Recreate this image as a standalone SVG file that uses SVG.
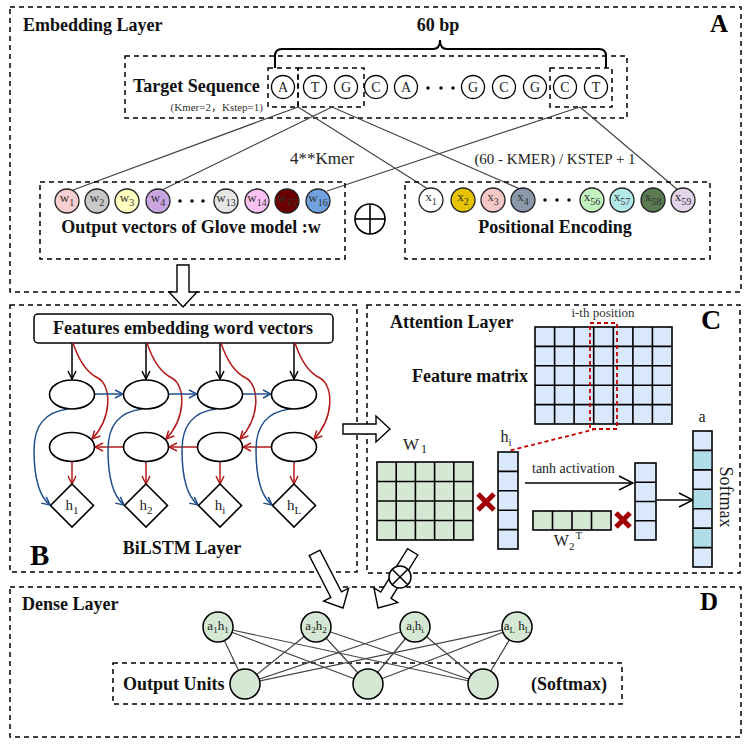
<svg xmlns="http://www.w3.org/2000/svg" width="751" height="747" viewBox="0 0 751 747">
<style>
.frame{fill:none;stroke:#000;stroke-width:1.5;stroke-dasharray:5,4}
.title{font-family:"Liberation Serif",serif;font-weight:bold;font-size:18px;fill:#111}
.big{font-family:"Liberation Serif",serif;font-weight:bold;fill:#000}
.lbl{font-family:"Liberation Serif",serif;fill:#333;text-anchor:middle}
.nuc{fill:#fff;stroke:#000;stroke-width:1.3}
.vc{stroke:#222;stroke-width:1.3}
.ln{stroke:#444;stroke-width:1.2;fill:none}
.cell{stroke:#000;stroke-width:1.6}
.blue{fill:#dae8fc}
.green{fill:#d5e8d4}
.cyan{fill:#afdde8}
.xm{stroke:#a00000;stroke-width:5;fill:none}
.hollow{fill:#fff;stroke:#000;stroke-width:1.4}
.ell{fill:#fff;stroke:#000;stroke-width:1.6}
.dn{fill:#d5e8d4;stroke:#000;stroke-width:1.5}
</style>
<defs>
<marker id="ak" viewBox="0 0 10 10" refX="9" refY="5" markerWidth="10" markerHeight="10" markerUnits="userSpaceOnUse" orient="auto"><path d="M1,1 L9,5 L1,9" fill="none" stroke="#000" stroke-width="1.5"/></marker>
<marker id="ab" viewBox="0 0 10 10" refX="9" refY="5" markerWidth="10" markerHeight="10" markerUnits="userSpaceOnUse" orient="auto"><path d="M1,1 L9,5 L1,9" fill="none" stroke="#1f4e8a" stroke-width="1.5"/></marker>
<marker id="ar" viewBox="0 0 10 10" refX="9" refY="5" markerWidth="10" markerHeight="10" markerUnits="userSpaceOnUse" orient="auto"><path d="M1,1 L9,5 L1,9" fill="none" stroke="#b31b1b" stroke-width="1.5"/></marker>
<marker id="akb" viewBox="0 0 16 16" refX="15" refY="8" markerWidth="16" markerHeight="16" markerUnits="userSpaceOnUse" orient="auto"><path d="M1,1 L15,8 L1,15" fill="none" stroke="#000" stroke-width="1.5"/></marker>
</defs>

<!-- ===== A: Embedding layer ===== -->
<g id="embedding-layer">
<rect class="frame" x="10" y="7" width="731" height="285"/>
<text class="title" x="23" y="31">Embedding Layer</text>
<text class="big" x="710" y="32" font-size="25">A</text>
<text class="title" x="438" y="31" text-anchor="middle">60 bp</text>
<path d="M275,68 V56 Q275,49 282,49 H433 Q440,49 440,40 Q440,49 447,49 H599 Q606,49 606,56 V68" fill="none" stroke="#000" stroke-width="2"/>
</g>

<g id="target-sequence">
<rect class="frame" x="125" y="56" width="502" height="62"/>
<text class="title" x="133" y="92">Target Sequence</text>
<text font-family="'Liberation Serif','Noto Sans CJK SC',serif" font-size="11" fill="#333" x="263" y="111" text-anchor="end">(Kmer=2，Kstep=1)</text>
<rect class="frame" x="268" y="68" width="30" height="39" stroke-width="1.3"/>
<rect class="frame" x="298" y="68" width="66" height="39" stroke-width="1.3"/>
<rect class="frame" x="550" y="68" width="62" height="39" stroke-width="1.3"/>
<g font-family="Liberation Serif, serif" font-size="14" text-anchor="middle" fill="#222">
<circle class="nuc" cx="283" cy="87" r="11.5"/><text x="283" y="92">A</text>
<circle class="nuc" cx="315" cy="87" r="11.5"/><text x="315" y="92">T</text>
<circle class="nuc" cx="346" cy="87" r="11.5"/><text x="346" y="92">G</text>
<circle class="nuc" cx="376" cy="87" r="11.5"/><text x="376" y="92">C</text>
<circle class="nuc" cx="406" cy="87" r="11.5"/><text x="406" y="92">A</text>
<circle class="nuc" cx="473" cy="87" r="11.5"/><text x="473" y="92">G</text>
<circle class="nuc" cx="504" cy="87" r="11.5"/><text x="504" y="92">C</text>
<circle class="nuc" cx="535" cy="87" r="11.5"/><text x="535" y="92">G</text>
<circle class="nuc" cx="565" cy="87" r="11.5"/><text x="565" y="92">C</text>
<circle class="nuc" cx="596" cy="87" r="11.5"/><text x="596" y="92">T</text>
</g>
<g fill="#111"><circle cx="428" cy="88" r="1.8"/><circle cx="441" cy="88" r="1.8"/><circle cx="453" cy="88" r="1.8"/></g>
</g>

<g id="embedding-connectors">
<line class="ln" x1="298" y1="107" x2="73" y2="190"/>
<line class="ln" x1="298" y1="107" x2="428" y2="189"/>
<line class="ln" x1="332" y1="107" x2="162" y2="190"/>
<line class="ln" x1="332" y1="107" x2="520" y2="189"/>
<line class="ln" x1="580" y1="107" x2="327" y2="191"/>
<line class="ln" x1="580" y1="107" x2="678" y2="190"/>
<text font-family="Liberation Serif, serif" font-size="17" fill="#222" x="322" y="164" text-anchor="middle">4**Kmer</text>
<text font-family="Liberation Serif, serif" font-size="15" fill="#222" x="555" y="164" text-anchor="middle">(60 - KMER) / KSTEP + 1</text>
</g>

<g id="glove-vectors">
<rect class="frame" x="40" y="182" width="305" height="77"/>
<g font-family="Liberation Serif, serif" font-size="13" fill="#333" text-anchor="middle">
<circle class="vc" cx="67" cy="201" r="12" fill="#f8cfcf"/><text x="67" y="202">w<tspan font-size="10" dy="4">1</tspan></text>
<circle class="vc" cx="97" cy="201" r="12" fill="#c8c8c8"/><text x="97" y="202">w<tspan font-size="10" dy="4">2</tspan></text>
<circle class="vc" cx="127" cy="201" r="12" fill="#ffffc2"/><text x="127" y="202">w<tspan font-size="10" dy="4">3</tspan></text>
<circle class="vc" cx="158" cy="201" r="12" fill="#c9a6e2"/><text x="158" y="202">w<tspan font-size="10" dy="4">4</tspan></text>
<circle class="vc" cx="226" cy="201" r="12" fill="#e6e6e6"/><text x="226" y="202">w<tspan font-size="10" dy="4">13</tspan></text>
<circle class="vc" cx="257" cy="201" r="12" fill="#f9c2f2"/><text x="257" y="202">w<tspan font-size="10" dy="4">14</tspan></text>
<circle class="vc" cx="287" cy="201" r="12" fill="#6b0000"/><text x="287" y="202">w<tspan font-size="10" dy="4">15</tspan></text>
<circle class="vc" cx="318" cy="201" r="12" fill="#70a2e2"/><text x="318" y="202">w<tspan font-size="10" dy="4">16</tspan></text>
</g>
<g fill="#111"><circle cx="180" cy="201" r="1.8"/><circle cx="192" cy="201" r="1.8"/><circle cx="203" cy="201" r="1.8"/></g>
<text class="title" x="191" y="233" text-anchor="middle">Output vectors of Glove model :w</text>
</g>

<g id="oplus">
<circle cx="370" cy="219" r="15" fill="#fff" stroke="#000" stroke-width="1.6"/>
<line x1="355" y1="219" x2="385" y2="219" stroke="#000" stroke-width="1.6"/>
<line x1="370" y1="204" x2="370" y2="234" stroke="#000" stroke-width="1.6"/>
</g>

<g id="positional-encoding">
<rect class="frame" x="405" y="182" width="305" height="77"/>
<g font-family="Liberation Serif, serif" font-size="13" fill="#333" text-anchor="middle">
<circle class="vc" cx="431" cy="200" r="12" fill="#fff"/><text x="431" y="201">x<tspan font-size="10" dy="4">1</tspan></text>
<circle class="vc" cx="463" cy="200" r="12" fill="#e6c200"/><text x="463" y="201">x<tspan font-size="10" dy="4">2</tspan></text>
<circle class="vc" cx="493" cy="200" r="12" fill="#f5c8c8"/><text x="493" y="201">x<tspan font-size="10" dy="4">3</tspan></text>
<circle class="vc" cx="523" cy="200" r="12" fill="#8a99aa"/><text x="523" y="201">x<tspan font-size="10" dy="4">4</tspan></text>
<circle class="vc" cx="592" cy="200" r="12" fill="#c2f2c2"/><text x="592" y="201">x<tspan font-size="10" dy="4">56</tspan></text>
<circle class="vc" cx="622" cy="200" r="12" fill="#b2e8e8"/><text x="622" y="201">x<tspan font-size="10" dy="4">57</tspan></text>
<circle class="vc" cx="653" cy="200" r="12" fill="#5a7a52"/><text x="653" y="201">x<tspan font-size="10" dy="4">58</tspan></text>
<circle class="vc" cx="683" cy="200" r="12" fill="#e2d4ea"/><text x="683" y="201">x<tspan font-size="10" dy="4">59</tspan></text>
</g>
<g fill="#111"><circle cx="545" cy="200" r="1.8"/><circle cx="557" cy="200" r="1.8"/><circle cx="569" cy="200" r="1.8"/></g>
<text class="title" x="555" y="233" text-anchor="middle">Positional Encoding</text>
</g>

<!-- ===== B: BiLSTM ===== -->
<g id="bilstm-layer">
<rect class="frame" x="10" y="305" width="347" height="267"/>
<rect x="34" y="314" width="299" height="29" rx="4" fill="#fff" stroke="#000" stroke-width="1.5"/>
<text class="title" x="183" y="334" text-anchor="middle">Features embedding word vectors</text>
<text class="title" x="182" y="554" text-anchor="middle">BiLSTM Layer</text>
<text class="big" x="30" y="565" font-size="29">B</text>
</g>

<g id="bilstm-connectors" fill="none" stroke-width="1.5">
<g stroke="#000" marker-end="url(#ak)">
<line x1="72" y1="343" x2="72" y2="379"/><line x1="146" y1="343" x2="146" y2="379"/><line x1="220" y1="343" x2="220" y2="379"/><line x1="294" y1="343" x2="294" y2="379"/>
</g>
<g stroke="#b31b1b" marker-end="url(#ar)">
<path d="M73,343 C78,358 85,372 98,378 C112,386 112,418 92,439"/>
<path d="M147,343 C152,358 159,372 172,378 C186,386 186,418 166,439"/>
<path d="M221,343 C226,358 233,372 246,378 C260,386 260,418 240,439"/>
<path d="M295,343 C300,358 307,372 320,378 C334,386 334,418 314,439"/>
<line x1="123" y1="447" x2="95" y2="447"/><line x1="197" y1="447" x2="169" y2="447"/><line x1="271" y1="447" x2="243" y2="447"/>
<line x1="72" y1="462" x2="72" y2="484"/><line x1="146" y1="462" x2="146" y2="484"/><line x1="220" y1="462" x2="220" y2="484"/><line x1="294" y1="462" x2="294" y2="484"/>
</g>
<g stroke="#1f4e8a" marker-end="url(#ab)">
<line x1="95" y1="394" x2="123" y2="394"/><line x1="169" y1="394" x2="197" y2="394"/><line x1="243" y1="394" x2="271" y2="394"/>
<path d="M68,409 C45,412 34,425 34,450 C34,480 40,497 50,505"/>
<path d="M142,409 C119,412 108,425 108,450 C108,480 114,497 124,505"/>
<path d="M216,409 C193,412 182,425 182,450 C182,480 188,497 198,505"/>
<path d="M290,409 C267,412 256,425 256,450 C256,480 262,497 272,505"/>
</g>
</g>

<g id="lstm-cells">
<ellipse class="ell" cx="72" cy="394.5" rx="22.5" ry="14.5"/><ellipse class="ell" cx="146" cy="394.5" rx="22.5" ry="14.5"/><ellipse class="ell" cx="220" cy="394.5" rx="22.5" ry="14.5"/><ellipse class="ell" cx="294" cy="394.5" rx="22.5" ry="14.5"/>
<ellipse class="ell" cx="72" cy="447" rx="22.5" ry="14.5"/><ellipse class="ell" cx="146" cy="447" rx="22.5" ry="14.5"/><ellipse class="ell" cx="220" cy="447" rx="22.5" ry="14.5"/><ellipse class="ell" cx="294" cy="447" rx="22.5" ry="14.5"/>
</g>
<g id="hidden-states" font-family="Liberation Serif, serif" font-size="15" fill="#222" text-anchor="middle">
<polygon class="ell" points="72,484 93.5,505.5 72,527 50.5,505.5"/><text x="72" y="510">h<tspan font-size="11" dy="4">1</tspan></text>
<polygon class="ell" points="146,484 167.5,505.5 146,527 124.5,505.5"/><text x="146" y="510">h<tspan font-size="11" dy="4">2</tspan></text>
<polygon class="ell" points="220,484 241.5,505.5 220,527 198.5,505.5"/><text x="220" y="510">h<tspan font-size="11" dy="4">i</tspan></text>
<polygon class="ell" points="294,484 315.5,505.5 294,527 272.5,505.5"/><text x="294" y="510">h<tspan font-size="11" dy="4">L</tspan></text>
</g>

<!-- ===== C: Attention ===== -->
<g id="attention-layer">
<rect class="frame" x="367" y="305" width="373" height="268"/>
<text class="title" x="390" y="328">Attention Layer</text>
<text class="big" x="701" y="329" font-size="28">C</text>
<text class="title" x="412" y="382">Feature matrix</text>
</g>

<g id="feature-matrix">
<rect class="cell blue" x="535" y="327" width="137" height="97"/>
<path class="cell" d="M554.6,327V424M574.1,327V424M593.7,327V424M613.3,327V424M632.9,327V424M652.4,327V424M535,346.4H672M535,365.8H672M535,385.2H672M535,404.6H672"/>
<rect x="590" y="323" width="27" height="106" fill="none" stroke="#c00000" stroke-width="1.8" stroke-dasharray="4,3"/>
<text font-family="Liberation Serif, serif" font-size="13" fill="#333" x="603" y="317" text-anchor="middle">i-th position</text>
<line x1="596" y1="429" x2="508" y2="451" stroke="#c00000" stroke-width="1.8" stroke-dasharray="4,3"/>
</g>

<g id="w1-matrix">
<rect class="cell green" x="377" y="462" width="96" height="78"/>
<path class="cell" d="M396.2,462V540M415.4,462V540M434.6,462V540M453.8,462V540M377,481.5H473M377,501H473M377,520.5H473"/>
<text font-family="Liberation Serif, serif" font-size="17" fill="#222" x="415" y="450" text-anchor="middle">W<tspan font-size="12" dy="3" dx="2">1</tspan></text>
<path class="xm" d="M478,494 L494,510 M494,494 L478,510"/>
</g>

<g id="hi-vector">
<rect class="cell blue" x="498" y="452" width="20" height="97"/>
<path class="cell" d="M498,471.4H518M498,490.8H518M498,510.2H518M498,529.6H518"/>
<text font-family="Liberation Serif, serif" font-size="16" fill="#222" x="506" y="442" text-anchor="middle">h<tspan font-size="11" dy="4">i</tspan></text>
</g>

<g id="tanh-connector">
<text font-family="Liberation Serif, serif" font-size="14" fill="#222" x="532" y="473">tanh activation</text>
<line x1="525" y1="483" x2="633" y2="483" stroke="#000" stroke-width="1.5" marker-end="url(#akb)"/>
<line x1="657" y1="500" x2="693" y2="500" stroke="#000" stroke-width="1.5" marker-end="url(#akb)"/>
</g>

<g id="w2t-vector">
<rect class="cell green" x="533" y="511" width="78" height="19"/>
<path class="cell" d="M552.5,511V530M572,511V530M591.5,511V530"/>
<text font-family="Liberation Serif, serif" font-size="16" fill="#222" x="568" y="546" text-anchor="middle">W<tspan font-size="11" dy="4">2</tspan><tspan font-size="11" dy="-11" dx="1">T</tspan></text>
<path class="xm" d="M616,513 L630,527 M630,513 L616,527"/>
</g>

<g id="tanh-vector">
<rect class="cell blue" x="635" y="463" width="21" height="77"/>
<path class="cell" d="M635,482.25H656M635,501.5H656M635,520.75H656"/>
</g>

<g id="a-vector">
<rect class="cell blue" x="693" y="431" width="19" height="136"/>
<rect class="cyan" x="693.8" y="450.4" width="17.4" height="19.4"/>
<rect class="cyan" x="693.8" y="489.3" width="17.4" height="19.4"/>
<rect class="cyan" x="693.8" y="528.1" width="17.4" height="19.4"/>
<path class="cell" d="M693,450.4H712M693,469.9H712M693,489.3H712M693,508.7H712M693,528.1H712M693,547.6H712"/>
<text font-family="Liberation Serif, serif" font-size="16" fill="#222" x="702" y="422" text-anchor="middle">a</text>
<text font-family="Liberation Serif, serif" font-size="18" fill="#222" transform="translate(720,497) rotate(90)" text-anchor="middle">Softmax</text>
</g>

<!-- ===== D: Dense ===== -->
<g id="dense-layer">
<rect class="frame" x="10" y="587" width="731" height="150"/>
<text class="title" x="22" y="610">Dense Layer</text>
<text class="big" x="700" y="610" font-size="25">D</text>
<rect class="frame" x="113" y="663" width="509" height="41"/>
<text class="title" x="123" y="690">Output Units</text>
<text class="title" x="531" y="690">(Softmax)</text>
</g>

<g id="dense-connectors" stroke="#444" stroke-width="1.2">
<line x1="218" y1="627" x2="245" y2="684"/><line x1="218" y1="627" x2="368" y2="684"/><line x1="218" y1="627" x2="483" y2="684"/>
<line x1="316" y1="627" x2="245" y2="684"/><line x1="316" y1="627" x2="368" y2="684"/><line x1="316" y1="627" x2="483" y2="684"/>
<line x1="415" y1="627" x2="245" y2="684"/><line x1="415" y1="627" x2="368" y2="684"/><line x1="415" y1="627" x2="483" y2="684"/>
<line x1="517" y1="627" x2="245" y2="684"/><line x1="517" y1="627" x2="368" y2="684"/><line x1="517" y1="627" x2="483" y2="684"/>
</g>

<g id="dense-nodes" font-family="Liberation Serif, serif" font-size="13" fill="#222" text-anchor="middle">
<g id="n-a1h1"><circle class="dn" cx="218" cy="627" r="15"/><text x="218" y="630">a<tspan font-size="9" dy="3">1</tspan><tspan dy="-3">h</tspan><tspan font-size="9" dy="3">1</tspan></text></g>
<g id="n-a2h2"><circle class="dn" cx="316" cy="627" r="15"/><text x="316" y="630">a<tspan font-size="9" dy="3">2</tspan><tspan dy="-3">h</tspan><tspan font-size="9" dy="3">2</tspan></text></g>
<g id="n-aihi"><circle class="dn" cx="415" cy="627" r="15"/><text x="415" y="630">a<tspan font-size="9" dy="3">i</tspan><tspan dy="-3">h</tspan><tspan font-size="9" dy="3">i</tspan></text></g>
<g id="n-aLhL"><circle class="dn" cx="517" cy="627" r="15"/><text x="517" y="630">a<tspan font-size="9" dy="3">L</tspan><tspan dy="-3"> h</tspan><tspan font-size="9" dy="3">L</tspan></text></g>
<g id="n-o1"><circle class="dn" cx="245" cy="684" r="15"/></g>
<g id="n-o2"><circle class="dn" cx="368" cy="684" r="15"/></g>
<g id="n-o3"><circle class="dn" cx="483" cy="684" r="15"/></g>
</g>

<!-- ===== hollow flow arrows ===== -->
<g id="flow-arrows">
<path class="hollow" transform="translate(183,307) rotate(90)" d="M0,0 L-15,-14 L-15,-6 L-42,-6 L-42,6 L-15,6 L-15,14 Z"/>
<path class="hollow" transform="translate(390,429)" d="M0,0 L-14,-13 L-14,-5 L-47,-5 L-47,5 L-14,5 L-14,13 Z"/>
<path class="hollow" transform="translate(343,608) rotate(62.7)" d="M0,0 L-15,-14 L-15,-6 L-62,-6 L-62,6 L-15,6 L-15,14 Z"/>
<path class="hollow" transform="translate(378,608) rotate(121.7)" d="M0,0 L-15,-14 L-15,-6 L-66,-6 L-66,6 L-15,6 L-15,14 Z"/>
<circle cx="400" cy="577" r="11" fill="#fff" stroke="#000" stroke-width="1.5"/>
<path d="M392.2,569.2 L407.8,584.8 M407.8,569.2 L392.2,584.8" stroke="#000" stroke-width="1.5"/>
</g>
</svg>
